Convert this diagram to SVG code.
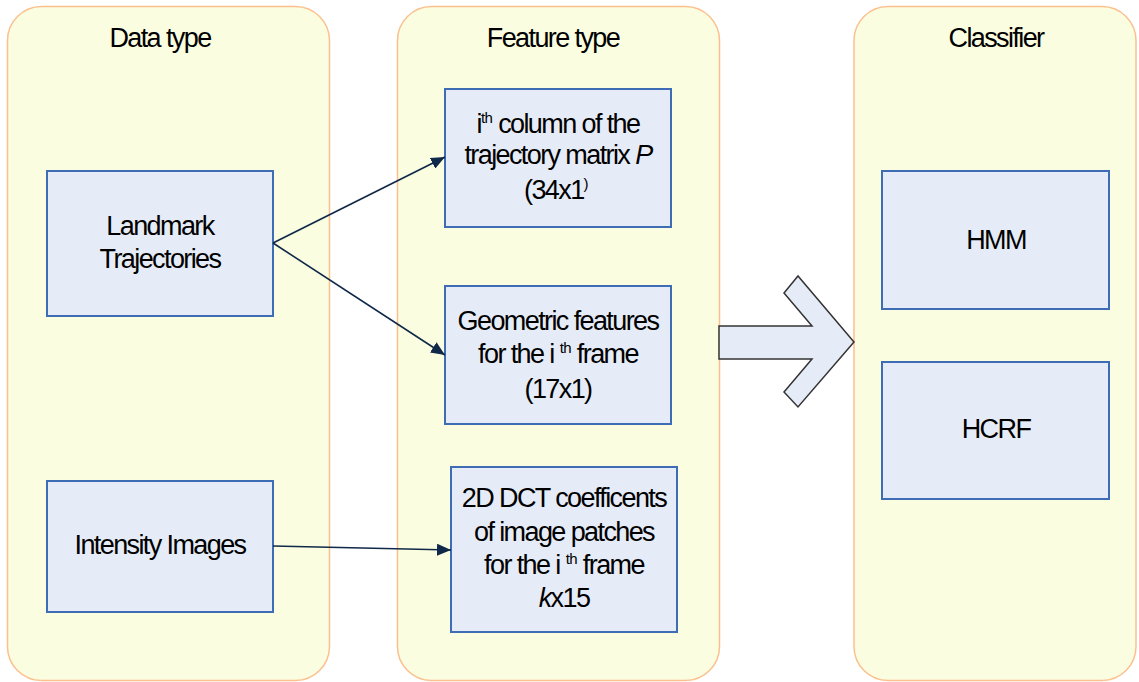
<svg xmlns="http://www.w3.org/2000/svg" width="1139" height="682" viewBox="0 0 1139 682">
  <defs>
    <marker id="arrow" viewBox="0 0 14 12" refX="14" refY="6" markerWidth="14" markerHeight="12" markerUnits="userSpaceOnUse" orient="auto">
      <path d="M0,0 L14,6 L0,12 Z" fill="#10284a"/>
    </marker>
  </defs>
  <style>
    .lane { fill: #fafde0; stroke: #fbc08e; stroke-width: 1.5; }
    .box { fill: #e6ecf7; stroke: #3f6db5; stroke-width: 2; }
    text { font-family: "Liberation Sans", Arial, sans-serif; font-size: 27px; letter-spacing: -1.6px; fill: #000; text-anchor: middle; }
    .sup { font-size: 15px; letter-spacing: -0.6px; }
    .conn { stroke: #10284a; stroke-width: 1.6; fill: none; }
  </style>
  <rect width="1139" height="682" fill="#ffffff"/>

  <!-- swimlanes -->
  <g id="lane-data">
    <rect class="lane" x="7.5" y="6.5" width="322" height="674" rx="34" ry="34"/>
    <text x="160" y="47">Data type</text>
  </g>
  <g id="lane-feature">
    <rect class="lane" x="397.5" y="6.5" width="322" height="674" rx="34" ry="34"/>
    <text x="553" y="47">Feature type</text>
  </g>
  <g id="lane-classifier">
    <rect class="lane" x="854" y="6.5" width="282" height="674" rx="34" ry="34"/>
    <text x="996" y="47">Classifier</text>
  </g>

  <!-- data nodes -->
  <g id="landmark">
    <rect class="box" x="47" y="171" width="226" height="145"/>
    <text x="160" y="235">Landmark</text>
    <text x="160" y="268">Trajectories</text>
  </g>
  <g id="intensity">
    <rect class="box" x="47" y="481" width="226" height="131"/>
    <text x="160" y="554">Intensity Images</text>
  </g>

  <!-- feature nodes -->
  <g id="trajectory-column">
    <rect class="box" x="445" y="89" width="226" height="138"/>
    <text x="558" y="133">i<tspan class="sup" dy="-10">th</tspan><tspan dy="10"> column of the</tspan></text>
    <text x="558" y="164">trajectory matrix <tspan font-style="italic">P</tspan></text>
    <text x="556" y="199">(34x1<tspan class="sup" dy="-10">)</tspan></text>
  </g>
  <g id="geometric">
    <rect class="box" x="445" y="286" width="226" height="138"/>
    <text x="558" y="330">Geometric features</text>
    <text x="558" y="363">for the i <tspan class="sup" dy="-10">th</tspan><tspan dy="10"> frame</tspan></text>
    <text x="558" y="398">(17x1)</text>
  </g>
  <g id="dct">
    <rect class="box" x="451" y="467" width="226" height="165"/>
    <text x="564" y="507">2D DCT coefficents</text>
    <text x="564" y="541">of image patches</text>
    <text x="564" y="574">for the i <tspan class="sup" dy="-10">th</tspan><tspan dy="10"> frame</tspan></text>
    <text x="564" y="607"><tspan font-style="italic">k</tspan>x15</text>
  </g>

  <!-- classifier nodes -->
  <g id="hmm">
    <rect class="box" x="882" y="171" width="227" height="138"/>
    <text x="996" y="249">HMM</text>
  </g>
  <g id="hcrf">
    <rect class="box" x="882" y="362" width="227" height="137"/>
    <text x="996" y="438">HCRF</text>
  </g>

  <!-- connectors -->
  <g id="connectors">
    <line class="conn" x1="273" y1="243" x2="445" y2="157" marker-end="url(#arrow)"/>
    <line class="conn" x1="273" y1="243" x2="445" y2="355" marker-end="url(#arrow)"/>
    <line class="conn" x1="273" y1="546" x2="451" y2="550" marker-end="url(#arrow)"/>
    <polygon points="719,326 812,326 784,293 798,276 854,342 798,407 784,392 812,359 719,359" fill="#e6ecf7" stroke="#333" stroke-width="1.5" stroke-linejoin="miter"/>
  </g>
</svg>
